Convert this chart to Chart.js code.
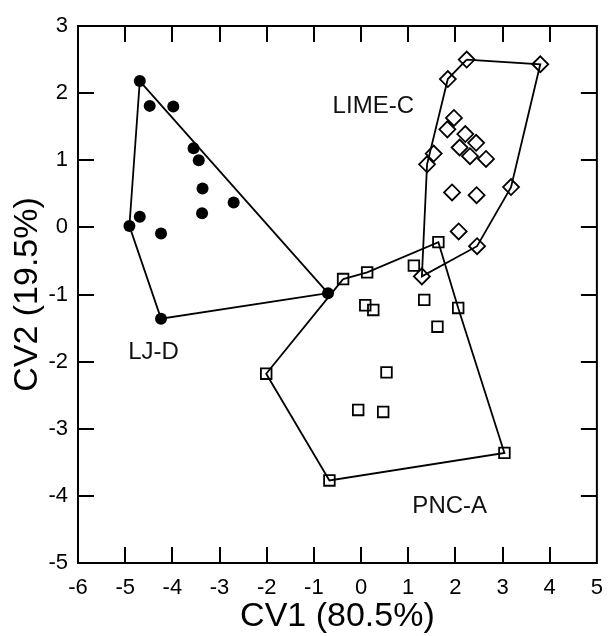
<!DOCTYPE html>
<html>
<head>
<meta charset="utf-8">
<script src="https://cdn.jsdelivr.net/npm/chart.js@4.4.0/dist/chart.umd.min.js"></script>
<style>
  html, body { margin: 0; padding: 0; background: #fff; }
</style>
</head>
<body>
<canvas id="myChart" width="615" height="636"></canvas>
<script>
// LJ-D (filled circles)
var ljX = [-4.69, -4.48, -3.98, -3.55, -3.44, -3.36, -2.70, -3.37, -4.69, -4.91, -4.24, -4.24, -0.70];
var ljY = [2.18, 1.81, 1.80, 1.18, 1.00, 0.58, 0.37, 0.21, 0.16, 0.02, -0.09, -1.36, -0.98];
var ljHull = [0, 12, 11, 9, 0];

// LIME-C (open diamonds)
var limeX = [2.24, 3.80, 1.84, 1.97, 1.83, 2.21, 2.44, 2.09, 2.31, 2.65, 1.54, 1.40, 3.18, 1.93, 2.45, 2.07, 2.46, 1.29];
var limeY = [2.50, 2.43, 2.21, 1.63, 1.46, 1.39, 1.26, 1.19, 1.06, 1.02, 1.10, 0.94, 0.60, 0.52, 0.48, -0.06, -0.28, -0.73];
var limeHull = [0, 1, 12, 16, 17, 11, 2, 0];

// PNC-A (open squares)
var pncX = [-0.38, 0.13, 1.64, 1.12, 0.09, 0.26, 1.34, 2.06, 1.62, 0.54, -0.06, 0.47, -2.01, -0.67, 3.04];
var pncY = [-0.77, -0.67, -0.22, -0.57, -1.16, -1.23, -1.08, -1.20, -1.48, -2.16, -2.72, -2.75, -2.18, -3.77, -3.36];
var pncHull = [0, 1, 2, 7, 14, 13, 12, 0];

// group names and where they sit
var groupNames = ["LIME-C", "LJ-D", "PNC-A"];
var groupNameX = [0.26, -4.40, 1.88];
var groupNameY = [1.81, -1.86, -4.16];

// inner tick marks
var xTicks = [-5, -4, -3, -2, -1, 0, 1, 2, 3, 4];
var yTicks = [-4, -3, -2, -1, 0, 1, 2];

function points(xs, ys) {
  return xs.map(function (x, i) { return { x: x, y: ys[i] }; });
}
function hull(xs, ys, idx) {
  return idx.map(function (i) { return { x: xs[i], y: ys[i] }; });
}

var framePlugin = {
  id: "frame",
  afterDraw: function (chart) {
    var c = chart.ctx;
    var a = chart.chartArea;
    var sx = chart.scales.x;
    var sy = chart.scales.y;
    c.save();
    c.strokeStyle = "#000";
    c.lineWidth = 2;
    c.strokeRect(a.left, a.top, a.right - a.left, a.bottom - a.top);
    c.beginPath();
    xTicks.forEach(function (v) {
      var px = Math.round(sx.getPixelForValue(v));
      c.moveTo(px, a.bottom); c.lineTo(px, a.bottom - 16);
      c.moveTo(px, a.top); c.lineTo(px, a.top + 16);
    });
    yTicks.forEach(function (v) {
      var py = Math.round(sy.getPixelForValue(v));
      c.moveTo(a.left, py); c.lineTo(a.left + 16, py);
      c.moveTo(a.right, py); c.lineTo(a.right - 16, py);
    });
    c.stroke();

    c.fillStyle = "#111";
    c.font = "24px 'Liberation Sans', Arial, sans-serif";
    c.textAlign = "center";
    c.textBaseline = "middle";
    groupNames.forEach(function (t, i) {
      c.fillText(t, sx.getPixelForValue(groupNameX[i]), sy.getPixelForValue(groupNameY[i]));
    });
    c.restore();
  }
};

Chart.defaults.font.family = "'Liberation Sans', Arial, sans-serif";
Chart.defaults.color = "#000";

var ctx = document.getElementById("myChart").getContext("2d");
var myChart = new Chart(ctx, {
  type: "scatter",
  data: {
    datasets: [
      { data: hull(ljX, ljY, ljHull), showLine: true, borderColor: "#000", borderWidth: 1.8, pointRadius: 0, fill: false },
      { data: hull(limeX, limeY, limeHull), showLine: true, borderColor: "#000", borderWidth: 1.8, pointRadius: 0, fill: false },
      { data: hull(pncX, pncY, pncHull), showLine: true, borderColor: "#000", borderWidth: 1.8, pointRadius: 0, fill: false },
      {
        label: "LJ-D", data: points(ljX, ljY),
        pointStyle: "circle", pointRadius: 6, backgroundColor: "#000", borderColor: "#000", borderWidth: 0
      },
      {
        label: "LIME-C", data: points(limeX, limeY),
        pointStyle: "rectRot", pointRadius: 8, backgroundColor: "rgba(0,0,0,0)", borderColor: "#000", borderWidth: 1.8
      },
      {
        label: "PNC-A", data: points(pncX, pncY),
        pointStyle: "rect", pointRadius: 7.5, backgroundColor: "rgba(0,0,0,0)", borderColor: "#000", borderWidth: 1.8
      }
    ]
  },
  options: {
    responsive: false,
    animation: false,
    layout: { padding: { top: 26, right: 8, left: 0, bottom: 0 } },
    plugins: { legend: { display: false }, tooltip: { enabled: false } },
    scales: {
      x: {
        type: "linear", min: -6, max: 5,
        afterFit: function (s) { s.height = 73; },
        grid: { display: false, drawTicks: false },
        border: { display: false },
        ticks: { stepSize: 1, padding: 12, font: { size: 22 }, color: "#000" },
        title: { display: true, text: "CV1 (80.5%)", font: { size: 34, lineHeight: 1 }, padding: { top: 0, bottom: 2 }, color: "#000" }
      },
      y: {
        type: "linear", min: -5, max: 3,
        afterFit: function (s) { s.width = 78; },
        grid: { display: false, drawTicks: false },
        border: { display: false },
        ticks: { stepSize: 1, padding: 10, font: { size: 22 }, color: "#000" },
        title: { display: true, text: "CV2 (19.5%)", font: { size: 34, lineHeight: 1 }, padding: { top: 11, bottom: 0 }, color: "#000" }
      }
    }
  },
  plugins: [framePlugin]
});
</script>
</body>
</html>
